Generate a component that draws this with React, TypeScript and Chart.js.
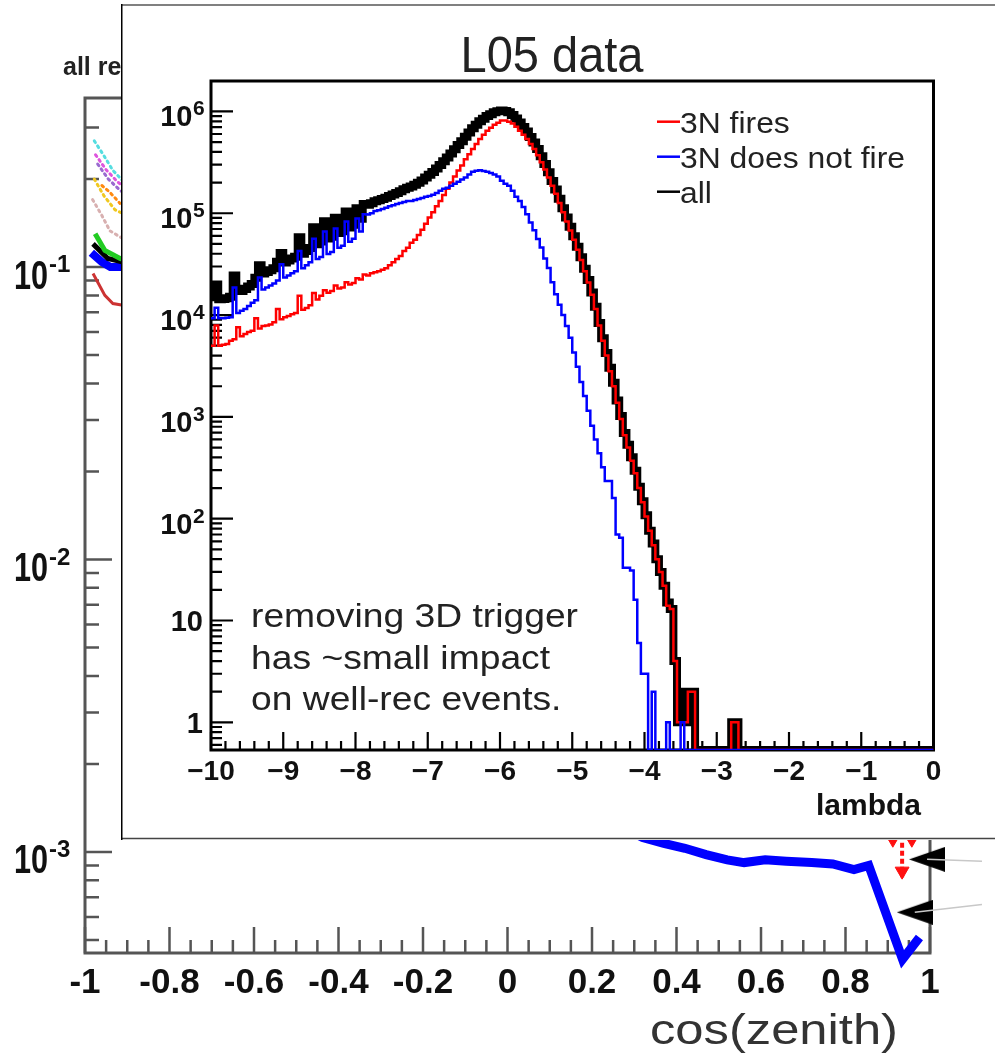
import React, { useEffect, useRef } from 'react';
import { Chart, registerables } from 'chart.js';

Chart.register(...registerables);

const FONT = "'Liberation Sans', Arial, Helvetica, sans-serif";

/* ================= background plot : rate vs cos(zenith) ================= */
const bgXMin = -1;
const bgXMax = 1;
const bgYMin = 4.515e-4;
const bgYMax = 0.3784;
const bgXTickValues = [-1, -0.8, -0.6, -0.4, -0.2, 0, 0.2, 0.4, 0.6, 0.8, 1];
const bgXTickLabels = ['-1', '-0.8', '-0.6', '-0.4', '-0.2', '0', '0.2', '0.4', '0.6', '0.8', '1'];
const bgYTickValues = [1e-3, 1e-2, 1e-1];
const bgYTickExponents = ['-3', '-2', '-1'];
const bgTitle = 'all re';
const bgXTitle = 'cos(zenith)';

const blueCos = [0.22, 0.27, 0.32, 0.37, 0.42, 0.47, 0.52, 0.56, 0.61, 0.66, 0.72, 0.77, 0.82, 0.855, 0.935, 0.975];
const blueRate = [1.35e-3, 1.22e-3, 1.12e-3, 1.07e-3, 1.03e-3, 9.8e-4, 9.4e-4, 9.2e-4, 9.4e-4, 9.3e-4, 9.2e-4, 9.1e-4, 8.7e-4, 9.0e-4, 4.3e-4, 5.1e-4];
const blueLeftCos = [-0.985, -0.96, -0.94, -0.9];
const blueLeftRate = [0.112, 0.104, 0.1, 0.1];
const cyanCos = [-0.978, -0.955, -0.934, -0.9];
const cyanRate = [0.27, 0.24, 0.214, 0.19];
const magentaCos = [-0.975, -0.95, -0.922, -0.9];
const magentaRate = [0.242, 0.215, 0.195, 0.185];
const violetCos = [-0.97, -0.945, -0.917, -0.9];
const violetRate = [0.225, 0.2, 0.183, 0.175];
const yellowCos = [-0.978, -0.955, -0.929, -0.9];
const yellowRate = [0.2, 0.175, 0.157, 0.15];
const orangeCos = [-0.96, -0.941, -0.917];
const orangeRate = [0.19, 0.18, 0.165];
const pinkCos = [-0.982, -0.96, -0.941, -0.91];
const pinkRate = [0.17, 0.15, 0.133, 0.125];
const greenCos = [-0.976, -0.953, -0.917, -0.9];
const greenRate = [0.13, 0.114, 0.107, 0.105];
const blackCos = [-0.981, -0.96, -0.946, -0.91];
const blackRate = [0.12, 0.112, 0.107, 0.104];
const darkRedCos = [-0.981, -0.953, -0.934, -0.91];
const darkRedRate = [0.095, 0.08, 0.075, 0.074];
const limitLineCos = [0.934, 0.934];
const limitLineRate = [1.3e-3, 8.2e-4];
const limitHeadCos = [0.912, 0.957, 0.934];
const limitHeadRate = [1.08e-3, 1.08e-3, 8.6e-4];
const arrowCos = [0.993, 0.964];
const arrowRate = [9.44e-4, 6.22e-4];
const arrowLine1Cos = [0.993, 1.123];
const arrowLine1Rate = [9.44e-4, 9.3e-4];
const arrowLine2Cos = [0.964, 1.123];
const arrowLine2Rate = [6.22e-4, 6.62e-4];

/* ================= inset : lambda histograms ================= */
const insetTitle = 'L05 data';
const lambdaMin = -10;
const lambdaMax = 0;
const lambdaBinWidth = 0.05;
const insetYMin = 0.535;
const insetYMax = 1.99e6;
const insetXTickValues = [-10, -9, -8, -7, -6, -5, -4, -3, -2, -1, 0];
const insetXTickLabels = ['\u221210', '\u22129', '\u22128', '\u22127', '\u22126', '\u22125', '\u22124', '\u22123', '\u22122', '\u22121', '0'];
const insetYTickValues = [1, 10, 100, 1000, 1e4, 1e5, 1e6];
const insetYTickBases = ['1', '10', '10', '10', '10', '10', '10'];
const insetYTickExponents = ['', '', '2', '3', '4', '5', '6'];
const insetXTitle = 'lambda';
const legendLabels = ['3N fires', '3N does not fire', 'all'];
const legendColors = ['#ff0000', '#0000ff', '#000000'];
const noteLines = ['removing 3D trigger', 'has ~small impact', 'on well-rec events.'];

const fires3N = [
  5000, 7900, 5000, 5100, 5200, 5600, 5800, 7600, 6200, 6500,
  6800, 7000, 9300, 7400, 7800, 7900, 8100, 8500, 11500, 9100,
  9500, 9800, 10200, 10500, 15500, 11300, 11700, 12500, 16500, 14200,
  15500, 17500, 16600, 17200, 19500, 18200, 18600, 21000, 20000, 20700,
  23000, 22400, 25000, 24500, 25700, 26300, 26900, 27900, 28800, 30900,
  33100, 35500, 38000, 42700, 45700, 51300, 55000, 61000, 69000, 79000,
  91000, 102000, 117000, 132000, 151000, 174000, 200000, 229000, 263000, 295000,
  339000, 380000, 427000, 479000, 537000, 589000, 646000, 692000, 741000, 776000,
  813000, 813000, 794000, 759000, 708000, 646000, 589000, 537000, 479000, 427000,
  372000, 316000, 269000, 224000, 186000, 155000, 126000, 102000, 83200, 67600,
  55000, 43700, 34700, 26900, 20900, 15800, 11500, 7900, 5600, 4000,
  2800, 2000, 1380, 955, 660, 500, 370, 280, 200, 145,
  105, 76, 55, 40, 30, 22, 14, 13, 4, 1,
  1, 1, 2, 2, 0, 0, 0, 0, 0, 0,
  0, 0, 0, 0, 1, 1, 0, 0, 0, 0,
  0, 0, 0, 0, 0, 0, 0, 0, 0, 0,
  0, 0, 0, 0, 0, 0, 0, 0, 0, 0,
  0, 0, 0, 0, 0, 0, 0, 0, 0, 0,
  0, 0, 0, 0, 0, 0, 0, 0, 0, 0,
  0, 0, 0, 0, 0, 0, 0, 0, 0, 0,
];

const notFires3N = [
  9300, 11800, 9300, 9300, 9400, 9500, 18600, 10500, 11000, 11500,
  12300, 13200, 14000, 23400, 17800, 18600, 19500, 20400, 21900, 31600,
  23400, 24500, 25700, 26900, 42700, 28800, 30900, 33100, 56200, 35500,
  37200, 66000, 39800, 41700, 70800, 45700, 47900, 83000, 52500, 56200,
  89000, 66000, 98000, 97000, 100000, 105000, 107000, 110000, 113000, 117000,
  120000, 123000, 126000, 129000, 132000, 132000, 135000, 138000, 141000, 145000,
  148000, 152000, 158000, 166000, 174000, 178000, 186000, 195000, 204000, 214000,
  224000, 240000, 255000, 262000, 264000, 260000, 255000, 248000, 240000, 229000,
  209000, 195000, 186000, 166000, 145000, 132000, 115000, 98000, 81000, 68000,
  56000, 46000, 36000, 29000, 21000, 16000, 12600, 10000, 7800, 6000,
  4300, 3100, 2200, 1600, 1150, 820, 600, 440, 320, 235,
  235, 160, 70, 65, 33, 33, 31, 16, 6, 3,
  3, 0, 2, 0, 0, 0, 1, 0, 0, 0,
  1, 0, 0, 0, 0, 0, 0, 0, 0, 0,
  0, 0, 0, 0, 0, 0, 0, 0, 0, 0,
  0, 0, 0, 0, 0, 0, 0, 0, 0, 0,
  0, 0, 0, 0, 0, 0, 0, 0, 0, 0,
  0, 0, 0, 0, 0, 0, 0, 0, 0, 0,
  0, 0, 0, 0, 0, 0, 0, 0, 0, 0,
  0, 0, 0, 0, 0, 0, 0, 0, 0, 0,
];

const allEvents = [
  15000, 20000, 14300, 14400, 14600, 15100, 24400, 18100, 17200, 18000,
  19100, 20200, 23300, 30800, 25600, 26500, 27600, 28900, 33400, 40700,
  32900, 34300, 35900, 37400, 58200, 40100, 42600, 45600, 72700, 49700,
  52700, 83500, 56400, 58900, 90300, 63900, 66500, 104000, 72500, 76900,
  112000, 88400, 123000, 121500, 125700, 131300, 133900, 137900, 141800, 147900,
  153100, 158500, 164000, 171700, 177700, 183300, 190000, 199000, 210000, 224000,
  239000, 254000, 275000, 298000, 325000, 352000, 386000, 424000, 467000, 509000,
  563000, 620000, 682000, 741000, 801000, 849000, 901000, 940000, 981000, 1005000,
  1022000, 1008000, 980000, 925000, 853000, 778000, 704000, 635000, 560000, 495000,
  428000, 362000, 305000, 253000, 207000, 171000, 138600, 112000, 91000, 73600,
  59300, 46800, 36900, 28500, 22050, 16620, 12100, 8340, 5920, 4235,
  3035, 2160, 1450, 1020, 693, 533, 401, 296, 206, 148,
  108, 76, 57, 40, 30, 22, 15, 13, 4, 1,
  2, 1, 2, 2, 0, 0, 0, 0, 0, 0,
  0, 0, 0, 0, 1, 1, 0, 0, 0, 0,
  0, 0, 0, 0, 0, 0, 0, 0, 0, 0,
  0, 0, 0, 0, 0, 0, 0, 0, 0, 0,
  0, 0, 0, 0, 0, 0, 0, 0, 0, 0,
  0, 0, 0, 0, 0, 0, 0, 0, 0, 0,
  0, 0, 0, 0, 0, 0, 0, 0, 0, 0,
];

/* ================= helpers ================= */
function pairs(xs: number[], ys: number[]) {
  return xs.map((x, i) => ({ x, y: ys[i] }));
}

function histPoints(vals: number[]) {
  const pts = vals.map((v, i) => ({ x: lambdaMin + i * lambdaBinWidth, y: v > 0 ? v : insetYMin }));
  const last = vals[vals.length - 1];
  pts.push({ x: lambdaMin + vals.length * lambdaBinWidth, y: last > 0 ? last : insetYMin });
  return pts;
}

function drawText(ctx: any, s: string, x: number, y: number, font: string, color: string, align: string, sx = 1) {
  ctx.save();
  ctx.font = font;
  ctx.fillStyle = color;
  ctx.textBaseline = 'alphabetic';
  ctx.textAlign = align;
  ctx.translate(x, y);
  ctx.scale(sx, 1);
  ctx.fillText(s, 0, 0);
  ctx.restore();
}

function fitScale(ctx: any, s: string, font: string, target: number) {
  ctx.save();
  ctx.font = font;
  const w = ctx.measureText(s).width;
  ctx.restore();
  return w > 0 ? target / w : 1;
}

/* ================= plugins ================= */
const bgDecor = {
  id: 'bgDecor',
  beforeDatasetsDraw(chart: any) {
    const { ctx, chartArea: a } = chart;
    const xs = chart.scales.x;
    const ys = chart.scales.y;
    ctx.save();
    ctx.strokeStyle = '#555';
    ctx.lineWidth = 3;
    ctx.strokeRect(a.left, a.top, a.right - a.left, a.bottom - a.top);
    ctx.lineWidth = 2.5;
    ctx.beginPath();
    for (let k = 0; k <= 40; k++) {
      const px = xs.getPixelForValue(bgXMin + k * 0.05);
      const len = k % 4 === 0 ? 26 : 13;
      ctx.moveTo(px, a.bottom);
      ctx.lineTo(px, a.bottom - len);
    }
    for (let d = -4; d <= -1; d++) {
      for (let m = 1; m <= 9; m++) {
        const val = m * Math.pow(10, d);
        if (val < bgYMin || val > bgYMax) continue;
        const py = ys.getPixelForValue(val);
        ctx.moveTo(a.left, py);
        ctx.lineTo(a.left + (m === 1 ? 27 : 14), py);
      }
    }
    ctx.stroke();
    ctx.restore();
  },
  afterDraw(chart: any) {
    const { ctx } = chart;
    const xs = chart.scales.x;
    const ys = chart.scales.y;
    bgXTickValues.forEach((v, i) => {
      drawText(ctx, bgXTickLabels[i], xs.getPixelForValue(v), 993, `bold 35px ${FONT}`, '#111', 'center');
    });
    const sx10 = fitScale(ctx, '10', `bold 40px ${FONT}`, 34);
    bgYTickValues.forEach((v, i) => {
      const py = ys.getPixelForValue(v);
      drawText(ctx, '10', 48, py + 21.5, `bold 40px ${FONT}`, '#111', 'right', sx10);
      drawText(ctx, bgYTickExponents[i], 49, py + 5, `bold 24px ${FONT}`, '#111', 'left');
    });
    drawText(ctx, bgTitle, 63, 75, `bold 25px ${FONT}`, '#222', 'left');
    const sxT = fitScale(ctx, bgXTitle, `43px ${FONT}`, 248);
    drawText(ctx, bgXTitle, 898, 1044, `43px ${FONT}`, '#333', 'right', sxT);
  },
};

const insetDecor = {
  id: 'insetDecor',
  beforeDraw(chart: any) {
    const { ctx, width, height } = chart;
    ctx.save();
    ctx.fillStyle = '#fff';
    ctx.fillRect(0, 0, width, height);
    ctx.lineWidth = 2;
    ctx.strokeStyle = '#808080';
    ctx.beginPath();
    ctx.moveTo(0, 1);
    ctx.lineTo(width, 1);
    ctx.stroke();
    ctx.lineWidth = 1.5;
    ctx.strokeStyle = '#444';
    ctx.beginPath();
    ctx.moveTo(0, height - 1.5);
    ctx.lineTo(width, height - 1.5);
    ctx.stroke();
    ctx.strokeStyle = '#000';
    ctx.beginPath();
    ctx.moveTo(0.75, 0);
    ctx.lineTo(0.75, height);
    ctx.stroke();
    ctx.restore();
  },
  beforeDatasetsDraw(chart: any) {
    const { ctx, chartArea: a } = chart;
    const xs = chart.scales.x;
    const ys = chart.scales.y;
    ctx.save();
    ctx.strokeStyle = '#000';
    ctx.lineWidth = 3;
    ctx.strokeRect(a.left, a.top, a.right - a.left, a.bottom - a.top);
    ctx.lineWidth = 2.2;
    ctx.beginPath();
    for (let k = 0; k <= 50; k++) {
      const px = xs.getPixelForValue(lambdaMin + k * 0.2);
      const len = k % 5 === 0 ? 18 : 9;
      ctx.moveTo(px, a.bottom);
      ctx.lineTo(px, a.bottom - len);
    }
    for (let d = -1; d <= 6; d++) {
      for (let m = 1; m <= 9; m++) {
        const val = m * Math.pow(10, d);
        if (val < insetYMin || val > insetYMax) continue;
        const py = ys.getPixelForValue(val);
        ctx.moveTo(a.left, py);
        ctx.lineTo(a.left + (m === 1 ? 22 : 11), py);
      }
    }
    ctx.stroke();
    ctx.restore();
  },
  afterDraw(chart: any) {
    const { ctx } = chart;
    const xs = chart.scales.x;
    const ys = chart.scales.y;
    // title
    const sxTitle = fitScale(ctx, insetTitle, `50px ${FONT}`, 183);
    drawText(ctx, insetTitle, 431, 68, `50px ${FONT}`, '#222', 'center', sxTitle);
    // y labels
    insetYTickValues.forEach((v, i) => {
      const py = ys.getPixelForValue(v);
      if (insetYTickExponents[i]) {
        drawText(ctx, insetYTickBases[i], 71.5, py + 15, `bold 29px ${FONT}`, '#111', 'right');
        drawText(ctx, insetYTickExponents[i], 72, py + 4, `bold 21px ${FONT}`, '#111', 'left');
      } else {
        drawText(ctx, insetYTickBases[i], 82, py + 10.5, `bold 29px ${FONT}`, '#111', 'right');
      }
    });
    // x labels
    insetXTickValues.forEach((v, i) => {
      drawText(ctx, insetXTickLabels[i], xs.getPixelForValue(v), 776, `bold 28px ${FONT}`, '#111', 'center');
    });
    drawText(ctx, insetXTitle, 800, 811, `bold 30px ${FONT}`, '#111', 'right');
    // legend
    const sxLeg = fitScale(ctx, legendLabels[1], `30px ${FONT}`, 225);
    legendLabels.forEach((lab, i) => {
      const base = 129 + i * 35;
      ctx.save();
      ctx.strokeStyle = legendColors[i];
      ctx.lineWidth = 2.5;
      ctx.beginPath();
      ctx.moveTo(536, base - 11.3);
      ctx.lineTo(559, base - 11.3);
      ctx.stroke();
      ctx.restore();
      drawText(ctx, lab, 559, base, `30px ${FONT}`, '#222', 'left', sxLeg);
    });
    // note
    const sxNote = fitScale(ctx, noteLines[0], `33px ${FONT}`, 327);
    noteLines.forEach((line, i) => {
      drawText(ctx, line, 130, 623 + i * 41.5, `33px ${FONT}`, '#222', 'left', sxNote);
    });
  },
};

/* ================= component ================= */
export default function App() {
  const bgRef = useRef<HTMLCanvasElement | null>(null);
  const insetRef = useRef<HTMLCanvasElement | null>(null);

  useEffect(() => {
    const tri = document.createElement('canvas');
    tri.width = 36;
    tri.height = 25;
    const tctx = tri.getContext('2d') as CanvasRenderingContext2D;
    tctx.fillStyle = '#000';
    tctx.beginPath();
    tctx.moveTo(0, 12.5);
    tctx.lineTo(36, 0);
    tctx.lineTo(36, 25);
    tctx.closePath();
    tctx.fill();

    const dotted = (xs: number[], ys: number[], color: string, w = 3) => ({
      data: pairs(xs, ys),
      borderColor: color,
      borderWidth: w,
      borderDash: [2, 4],
      borderCapStyle: 'round',
      pointRadius: 0,
      showLine: true,
    });

    const bg = new Chart(bgRef.current as HTMLCanvasElement, {
      type: 'line',
      data: {
        datasets: [
          dotted(cyanCos, cyanRate, '#55dde0'),
          dotted(magentaCos, magentaRate, '#dd55dd'),
          dotted(violetCos, violetRate, '#9a6ad0'),
          dotted(yellowCos, yellowRate, '#f0c820'),
          dotted(orangeCos, orangeRate, '#ff8a10'),
          dotted(pinkCos, pinkRate, '#d8b0b0'),
          { data: pairs(greenCos, greenRate), borderColor: '#22cc22', borderWidth: 5, pointRadius: 0 },
          { data: pairs(blackCos, blackRate), borderColor: '#000', borderWidth: 5, pointRadius: 0 },
          { data: pairs(darkRedCos, darkRedRate), borderColor: '#cc3333', borderWidth: 3, pointRadius: 0 },
          { data: pairs(blueLeftCos, blueLeftRate), borderColor: '#0000ff', borderWidth: 8, pointRadius: 0 },
          { data: pairs(blueCos, blueRate), borderColor: '#0000ff', borderWidth: 9, pointRadius: 0, clip: false, borderJoinStyle: 'miter' },
          { data: pairs(limitLineCos, limitLineRate), borderColor: '#ff1010', borderWidth: 4, borderDash: [5, 3], pointRadius: 0 },
          {
            data: pairs(limitHeadCos, limitHeadRate), showLine: false, pointStyle: 'triangle', rotation: 180,
            pointRadius: [5, 5, 8], backgroundColor: '#ff1010', borderColor: '#ff1010', borderWidth: 1,
          },
          { data: pairs(arrowLine1Cos, arrowLine1Rate), borderColor: '#c8c8c8', borderWidth: 1.5, pointRadius: 0, clip: false },
          { data: pairs(arrowLine2Cos, arrowLine2Rate), borderColor: '#c8c8c8', borderWidth: 1.5, pointRadius: 0, clip: false },
          { data: pairs(arrowCos, arrowRate), showLine: false, pointStyle: tri, pointRadius: 12, clip: false },
        ],
      } as any,
      options: {
        responsive: false,
        maintainAspectRatio: false,
        devicePixelRatio: 1,
        animation: false,
        events: [],
        layout: { padding: { left: 85, right: 65, top: 98, bottom: 101 } },
        plugins: { legend: { display: false }, tooltip: { enabled: false }, title: { display: false } },
        scales: {
          x: { type: 'linear', min: bgXMin, max: bgXMax, display: false },
          y: { type: 'logarithmic', min: bgYMin, max: bgYMax, display: false },
        },
      } as any,
      plugins: [bgDecor],
    });

    const inset = new Chart(insetRef.current as HTMLCanvasElement, {
      type: 'line',
      data: {
        datasets: [
          { data: histPoints(notFires3N), borderColor: '#0000ff', borderWidth: 2.5, stepped: 'before', pointRadius: 0, order: 1 },
          { data: histPoints(fires3N), borderColor: '#ff0000', borderWidth: 2.5, stepped: 'before', pointRadius: 0, order: 2 },
          { data: histPoints(allEvents), borderColor: '#000000', borderWidth: 8, stepped: 'before', pointRadius: 0, order: 3 },
        ],
      } as any,
      options: {
        responsive: false,
        maintainAspectRatio: false,
        devicePixelRatio: 1,
        animation: false,
        events: [],
        layout: { padding: { left: 90, right: 61.5, top: 77, bottom: 90 } },
        plugins: { legend: { display: false }, tooltip: { enabled: false }, title: { display: false } },
        scales: {
          x: { type: 'linear', min: lambdaMin, max: lambdaMax, display: false },
          y: { type: 'logarithmic', min: insetYMin, max: insetYMax, display: false },
        },
      } as any,
      plugins: [insetDecor],
    });

    return () => {
      bg.destroy();
      inset.destroy();
    };
  }, []);

  return (
    <div style={{ position: 'absolute', left: 0, top: 0, width: 995, height: 1054, background: '#fff', overflow: 'hidden' }}>
      <canvas ref={bgRef} width={995} height={1054} style={{ position: 'absolute', left: 0, top: 0, width: 995, height: 1054 }} />
      <canvas ref={insetRef} width={874} height={836} style={{ position: 'absolute', left: 121, top: 4, width: 874, height: 836 }} />
    </div>
  );
}
